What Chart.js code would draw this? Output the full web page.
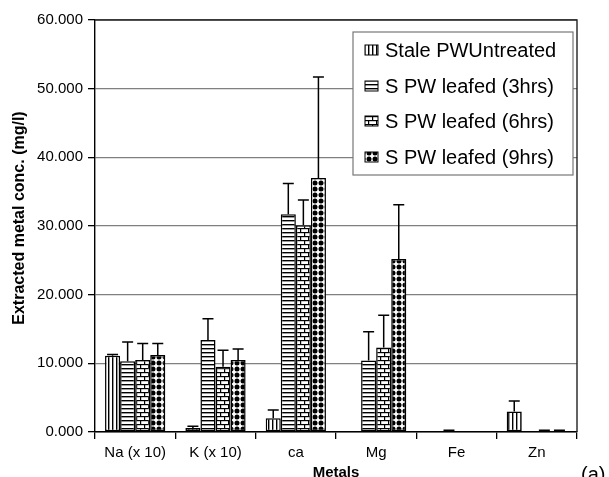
<!DOCTYPE html>
<html>
<head>
<meta charset="utf-8">
<script src="https://cdn.jsdelivr.net/npm/chart.js@4.4.1/dist/chart.umd.min.js"></script>
<style>
html,body{margin:0;padding:0;background:#fff;}
#wrap{width:609px;height:477px;position:relative;}
</style>
</head>
<body>
<div id="wrap"><canvas id="c" width="609" height="477"></canvas></div>
<script>
const categories = ['Na (x 10)', 'K (x 10)', 'ca', 'Mg', 'Fe', 'Zn'];
const seriesLabels = ['Stale PWUntreated', 'S PW leafed (3hrs)', 'S PW leafed (6hrs)', 'S PW leafed (9hrs)'];
const staleValues  = [11.1, 0.6, 2.0, 0.0, 0.0, 3.0];
const leaf3Values  = [10.3, 13.4, 31.7, 10.4, 0.05, 0.05];
const leaf6Values  = [10.5, 9.5, 30.1, 12.3, 0.0, 0.1];
const leaf9Values  = [11.2, 10.5, 37.0, 25.2, 0.0, 0.1];
const staleErr = [0.2, 0.25, 1.2, 0.0, 0.0, 1.5];
const leaf3Err = [2.8, 3.1, 4.5, 4.2, 0.2, 0.0];
const leaf6Err = [2.4, 2.4, 3.7, 4.7, 0.0, 0.15];
const leaf9Err = [1.7, 1.6, 14.7, 7.9, 0.0, 0.15];
const yTicks = [0, 10, 20, 30, 40, 50, 60];

function makePattern(kind){
  const t = document.createElement('canvas');
  let w = 4, h = 4;
  if (kind === 'brick') { w = 8; h = 8; }
  if (kind === 'dots') { w = 6; h = 6; }
  t.width = w; t.height = h;
  const g = t.getContext('2d');
  g.fillStyle = '#fff'; g.fillRect(0,0,w,h);
  g.fillStyle = '#000';
  if (kind === 'vert') { g.fillRect(0,0,1.4,h); }
  else if (kind === 'horiz') { g.fillRect(0,0,w,1.4); }
  else if (kind === 'brick') {
    g.fillRect(0,0,w,1.2); g.fillRect(0,4,w,1.2);
    g.fillRect(0,0,1.2,4); g.fillRect(4,4,1.2,4);
  } else if (kind === 'dots') {
    g.beginPath(); g.arc(3,3,2.5,0,Math.PI*2); g.fill();
  }
  return document.getElementById('c').getContext('2d').createPattern(t,'repeat');
}
const patterns = [makePattern('vert'), makePattern('horiz'), makePattern('brick'), makePattern('dots')];
const allValues = [staleValues, leaf3Values, leaf6Values, leaf9Values];
const allErr = [staleErr, leaf3Err, leaf6Err, leaf9Err];

const datasets = seriesLabels.map((lab, i) => ({
  label: lab,
  data: allValues[i],
  errors: allErr[i],
  backgroundColor: patterns[i],
  borderColor: '#000',
  borderWidth: 1.5,
  borderSkipped: false,
  categoryPercentage: 0.75,
  barPercentage: 1.0
}));

const FONT = '"Liberation Sans", Arial, sans-serif';

const decorPlugin = {
  id: 'decor',
  afterDatasetsDraw(chart){
    const ctx = chart.ctx;
    const y = chart.scales.y;
    ctx.save();
    ctx.strokeStyle = '#000';
    ctx.lineWidth = 1.5;
    chart.data.datasets.forEach((ds, di) => {
      const meta = chart.getDatasetMeta(di);
      meta.data.forEach((bar, i) => {
        const e = ds.errors[i];
        if (!e) return;
        const top = y.getPixelForValue(ds.data[i] + e);
        const base = y.getPixelForValue(ds.data[i]);
        ctx.beginPath();
        ctx.moveTo(bar.x, base); ctx.lineTo(bar.x, top);
        ctx.moveTo(bar.x - 5.5, top); ctx.lineTo(bar.x + 5.5, top);
        ctx.stroke();
      });
    });
    ctx.restore();
  },
  afterDraw(chart){
    const ctx = chart.ctx;
    const a = chart.chartArea;
    ctx.save();
    ctx.strokeStyle = '#222';
    ctx.lineWidth = 1.4;
    ctx.beginPath();
    ctx.moveTo(a.left, a.top); ctx.lineTo(a.right, a.top); ctx.lineTo(a.right, a.bottom);
    ctx.stroke();
    const lx = 353, ly = 32, lw = 220, lh = 143;
    ctx.fillStyle = '#fff';
    ctx.fillRect(lx, ly, lw, lh);
    ctx.strokeStyle = '#777';
    ctx.lineWidth = 1.2;
    ctx.strokeRect(lx, ly, lw, lh);
    const rows = [50, 86, 121, 157];
    ctx.font = '20px ' + FONT;
    ctx.textBaseline = 'middle';
    ctx.textAlign = 'left';
    chart.data.datasets.forEach((ds, i) => {
      const ry = rows[i];
      ctx.fillStyle = ds.backgroundColor;
      ctx.fillRect(365, ry - 5, 13, 10);
      ctx.strokeStyle = '#000';
      ctx.lineWidth = 1;
      ctx.strokeRect(365, ry - 5, 13, 10);
      ctx.fillStyle = '#000';
      ctx.fillText(ds.label, 385, ry + 1);
    });
    ctx.save();
    ctx.translate(20, 218);
    ctx.rotate(-Math.PI/2);
    ctx.font = 'bold 16px ' + FONT;
    ctx.textAlign = 'center';
    ctx.textBaseline = 'middle';
    ctx.fillStyle = '#000';
    ctx.fillText('Extracted metal conc. (mg/l)', 0, 0);
    ctx.restore();
    ctx.font = '20px ' + FONT;
    ctx.fillStyle = '#000';
    ctx.textAlign = 'left';
    ctx.textBaseline = 'alphabetic';
    ctx.fillText('(a)', 581, 481);
    ctx.restore();
  }
};

new Chart(document.getElementById('c'), {
  type: 'bar',
  data: { labels: categories, datasets },
  options: {
    responsive: false,
    animation: false,
    devicePixelRatio: 1,
    layout: { padding: { top: 20, right: 32, bottom: 0, left: 0 } },
    plugins: { legend: { display: false }, tooltip: { enabled: false } },
    scales: {
      x: {
        grid: { display: true, drawOnChartArea: false, drawTicks: true, tickLength: 7, color: '#000', lineWidth: 1.3, offset: true },
        border: { color: '#000', width: 1.4 },
        ticks: { color: '#000', font: { family: FONT, size: 15 }, padding: 5, maxRotation: 0, autoSkip: false },
        title: { display: true, text: 'Metals', color: '#000', font: { family: FONT, size: 15, weight: 'bold' }, padding: { top: 0, bottom: -5 } },
        afterFit(s){ s.height = 45; }
      },
      y: {
        min: 0, max: 60,
        afterBuildTicks(s){ s.ticks = yTicks.map(v => ({ value: v })); },
        grid: { color: '#808080', lineWidth: 1.3, tickLength: 7, tickColor: '#000', tickWidth: 1.3 },
        border: { color: '#000', width: 1.4 },
        ticks: { color: '#000', font: { family: FONT, size: 15 }, padding: 5, callback: v => Number(v).toFixed(3) },
        afterFit(s){ s.width = 95; }
      }
    }
  },
  plugins: [decorPlugin]
});
</script>
</body>
</html>
